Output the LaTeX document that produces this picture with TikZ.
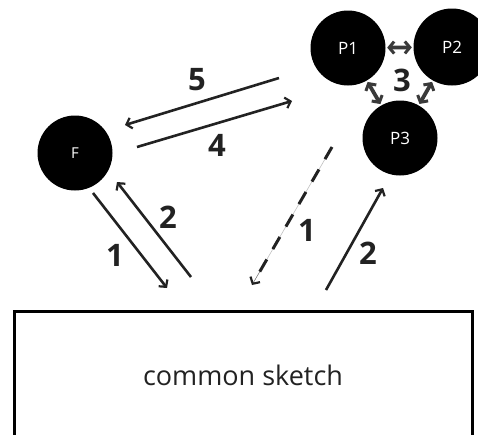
\documentclass[tikz,border=0pt]{standalone}
\usepackage{fontspec}
\setmainfont{Open Sans}
\usetikzlibrary{arrows.meta,calc}
\definecolor{ink}{HTML}{222222}
\definecolor{pink}{HTML}{3A3A3A}
\tikzset{
  agent/.style={circle, fill=black, draw=none, minimum size=75pt, inner sep=0pt,
    text=white, font=\fontsize{17}{17}\selectfont},
  flow/.style={draw=ink, line width=2.6pt, -{Straight Barb[length=5pt,width=11pt,line width=2.2pt]}},
  peer/.style={draw=pink, line width=3.8pt,
    {Straight Barb[length=5pt,width=12pt,line width=3pt]}-{Straight Barb[length=5pt,width=12pt,line width=3pt]},
    shorten <=1.5pt, shorten >=1.5pt},
  num/.style={text=ink, font=\fontsize{31}{31}\selectfont\bfseries, inner sep=0pt},
}
\begin{document}
\begin{tikzpicture}[x=1pt,y=-1pt]
\useasboundingbox (0,0) rectangle (478,434);

% agents
\node[agent, font=\fontsize{15}{15}\selectfont] (F) at (75,153) {F};
\node[agent] (P1) at (348,48) {P1};
\node[agent, minimum size=77pt] (P2) at (452,47) {P2};
\node[agent] (P3) at (400,138) {P3};

% shared sketch area, running off the bottom edge
\node[draw=black, line width=3pt, minimum width=458pt, minimum height=128pt,
  inner sep=0pt, font=\fontsize{27}{27}\selectfont, text=ink] (S) at (243,375) {common sketch};

% arrow end points
\coordinate (a5s) at (279,78);   \coordinate (a5e) at (125,125);
\coordinate (a4s) at (137,147);  \coordinate (a4e) at (292,101);
\coordinate (f1s) at (93,193);   \coordinate (f1e) at (167,288);
\coordinate (f2s) at (191,277);  \coordinate (f2e) at (117,182);
\coordinate (p1s) at (332,147);  \coordinate (p1e) at (252,285);
\coordinate (p2s) at (326,290);  \coordinate (p2e) at (383,188);

% peer links
\draw[peer] (P1) -- (P2);
\draw[peer] (P1) -- (P3);
\draw[peer] (P2) -- (P3);

% F <-> peers
\draw[flow] (a5s) -- (a5e);
\draw[flow] (a4s) -- (a4e);

% F <-> sketch
\draw[flow] (f1s) -- (f1e);
\draw[flow] (f2s) -- (f2e);

% peers <-> sketch (dashed with a faint guide line)
\draw[gray!50, line width=0.6pt] (p1s) -- (p1e);
\draw[draw=ink, line width=3pt, dash pattern=on 14pt off 12pt] (p1s) -- ($(p1s)!0.93!(p1e)$);
\draw[draw=ink, line width=0.1pt, -{Straight Barb[length=5pt,width=11pt,line width=2.2pt]}] ($(p1s)!0.9!(p1e)$) -- (p1e);
\draw[flow] (p2s) -- (p2e);

% step numbers
\node[num] (n5) at (197,80) {5};
\node[num] (n4) at (217,145) {4};
\node[num] (n3) at (402,80) {3};
\node[num] (n1a) at (115,255) {1};
\node[num] (n2a) at (168,217) {2};
\node[num] (n1b) at (307,230) {1};
\node[num] (n2b) at (368,253) {2};
\end{tikzpicture}
\end{document}
